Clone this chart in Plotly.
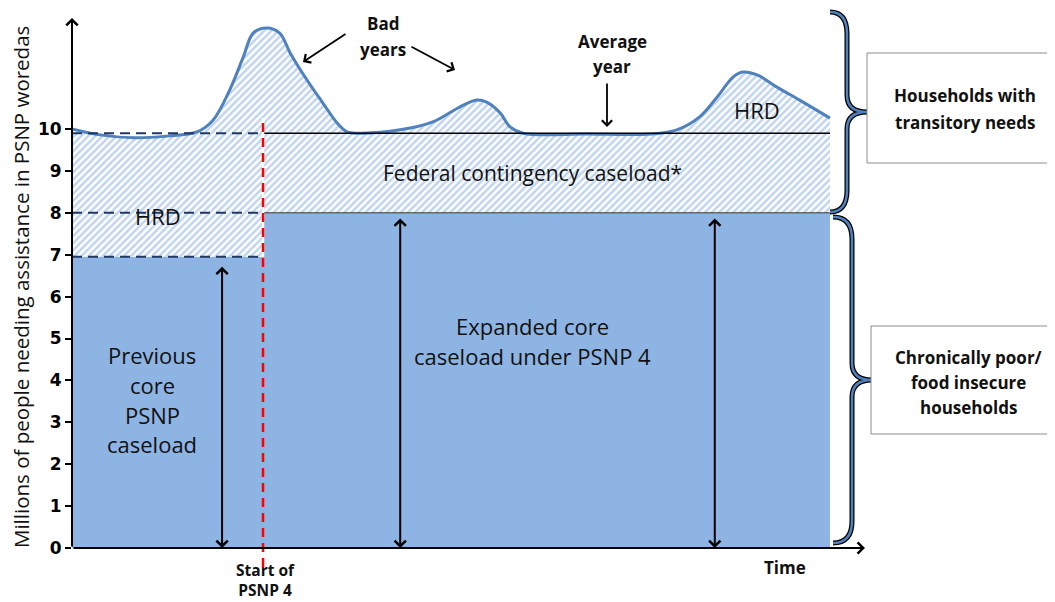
import plotly.graph_objects as go

# ---------------- data ----------------
time_pts = [0, 3.7, 8.3, 12.5, 16.5, 18.6, 20.8, 22.6, 23.9, 25.7, 27.4, 28.8, 31.0,
            33.1, 35.0, 36.3, 38.0, 43.3, 47.6, 51.2, 53.4, 54.7, 56.5, 57.8, 59.5,
            68.0, 76.3, 79.8, 82.8, 85.1, 87.2, 88.5, 90.4, 93.0, 96.0, 100]
need_total = [10.0, 9.86, 9.79, 9.83, 9.93, 10.21, 10.93, 11.72, 12.29, 12.41, 12.29, 11.81, 11.17,
              10.62, 10.14, 9.93, 9.90, 9.98, 10.17, 10.53, 10.69, 10.64, 10.38, 10.05, 9.90,
              9.88, 9.88, 9.98, 10.29, 10.76, 11.24, 11.36, 11.29, 11.0, 10.69, 10.26]
psnp4_start = 25.2
time_end = 100
prev_core = 6.95
new_core = 8.0
hrd_level_prev = 8.0
contingency_top = 9.9
arrow_times = [19.8, 43.3, 84.8]
arrow_tops = [6.75, 7.9, 7.9]
y_ticks = [0, 1, 2, 3, 4, 5, 6, 7, 8, 9, 10]
y_ticktext = [str(v) for v in y_ticks]

# ---------------- layout geometry ----------------
OFF = 8                      # page body margin in the browser
W, H = 1055 - OFF, 602 - OFF
ML, MT = 72 - OFF, 18 - OFF
PW, PH = 793, 530
MR = W - ML - PW
MB = H - MT - PH
XMAX = PW / 7.58
YMAX = PH / 41.9


def PX(px):
    return (px - 72) / PW


def PY(py):
    return (548 - py) / PH


def xp(t):
    return t / XMAX


def yp(v):
    return v / YMAX


CORE = '#8EB4E3'
NAVY = '#1F3864'
BLUE = '#4F81BD'
TXT = '#111111'
FONT = 'Open Sans'

fig = go.Figure()

# core caseload (solid)
core_x = [0, psnp4_start, psnp4_start, time_end]
core_y = [prev_core, prev_core, new_core, new_core]
fig.add_trace(go.Scatter(x=core_x, y=core_y, mode='lines', fill='tozeroy',
                         fillcolor=CORE, line=dict(width=0, color=CORE),
                         hoverinfo='skip', showlegend=False))
# transitory needs (hatched)
fig.add_trace(go.Scatter(x=time_pts, y=need_total, mode='lines', fill='tonexty',
                         fillcolor='white',
                         fillpattern=dict(shape='/', fgcolor='#84AADC', bgcolor='white',
                                          size=5, solidity=0.5),
                         line=dict(color=BLUE, width=3, shape='spline', smoothing=1.0),
                         hoverinfo='skip', showlegend=False))

# dashed guide lines before PSNP 4
dash = '10px,6px'
for lvl, xend in [(contingency_top, psnp4_start), (hrd_level_prev, psnp4_start),
                  (prev_core, psnp4_start - 0.6)]:
    fig.add_trace(go.Scatter(x=[0, xend], y=[lvl, lvl], mode='lines',
                             line=dict(color=NAVY, width=2, dash=dash),
                             hoverinfo='skip', showlegend=False))
# solid lines after PSNP 4
fig.add_trace(go.Scatter(x=[psnp4_start, time_end], y=[contingency_top, contingency_top],
                         mode='lines', line=dict(color='black', width=1.6),
                         hoverinfo='skip', showlegend=False))
fig.add_trace(go.Scatter(x=[psnp4_start, time_end], y=[new_core, new_core],
                         mode='lines', line=dict(color='#333333', width=1),
                         hoverinfo='skip', showlegend=False))

shapes = []
# red start line (with white under it in the hatched part)
shapes.append(dict(type='line', xref='paper', yref='paper',
                   x0=xp(psnp4_start), x1=xp(psnp4_start),
                   y0=yp(prev_core), y1=yp(need_total[-1]),
                   line=dict(color='white', width=2.5)))
shapes.append(dict(type='line', xref='paper', yref='paper',
                   x0=xp(psnp4_start), x1=xp(psnp4_start),
                   y0=PY(567), y1=yp(need_total[-1]),
                   line=dict(color='#FF0000', width=2.5, dash='9px,6px')))


def brace(top, bot, xs, xv, xtip):
    mid = (top + bot) / 2
    pts = (f"M {PX(xs)},{PY(top)} Q {PX(xv)},{PY(top)} {PX(xv)},{PY(top + 22)} "
           f"L {PX(xv)},{PY(mid - 17)} Q {PX(xv)},{PY(mid)} {PX(xtip)},{PY(mid)} "
           f"Q {PX(xv)},{PY(mid)} {PX(xv)},{PY(mid + 17)} "
           f"L {PX(xv)},{PY(bot - 22)} Q {PX(xv)},{PY(bot)} {PX(xs)},{PY(bot)}")
    return pts


for top, bot, xs, xv, xtip in [(12, 212, 830, 847, 867), (217, 543, 833, 852, 872)]:
    p = brace(top, bot, xs, xv, xtip)
    shapes.append(dict(type='path', xref='paper', yref='paper', path=p,
                       line=dict(color='black', width=5)))
    shapes.append(dict(type='path', xref='paper', yref='paper', path=p,
                       line=dict(color=BLUE, width=2.5)))

# boxes
shapes.append(dict(type='rect', xref='paper', yref='paper', x0=PX(867), x1=PX(1062),
                   y0=PY(163), y1=PY(53), line=dict(color='#8C8C8C', width=1),
                   fillcolor='white'))
shapes.append(dict(type='rect', xref='paper', yref='paper', x0=PX(871), x1=PX(1062),
                   y0=PY(434), y1=PY(326), line=dict(color='#8C8C8C', width=1),
                   fillcolor='white'))

ann = []


def text_lines(lines, cx, ys, size, bold=False, color=TXT):
    for line, y in zip(lines, ys):
        ann.append(dict(xref='paper', yref='paper', x=PX(cx), y=PY(y), text=line,
                        showarrow=False, xanchor='center', yanchor='middle',
                        font=dict(family=FONT, size=size, color=color,
                                  weight='bold' if bold else 'normal')))


text_lines(['Bad', 'years'], 383, [24, 50], 17, bold=True)
text_lines(['Average', 'year'], 612, [42, 67], 17, bold=True)
text_lines(['HRD'], 757, [110], 22)
text_lines(['HRD'], 158, [216], 22)
text_lines(['Federal contingency caseload*'], 532, [173], 21)
text_lines(['Expanded core', 'caseload under PSNP 4'], 532, [326, 356], 22)
text_lines(['Previous', 'core', 'PSNP', 'caseload'], 152, [355, 385, 415, 444], 22)
text_lines(['Start of<br>PSNP 4'], 265, [580], 15.5, bold=True)
text_lines(['Time'], 785, [567], 17, bold=True)
text_lines(['Households with', 'transitory needs'], 965, [96, 123], 17, bold=True)
text_lines(['Chronically poor/', 'food insecure', 'households'], 968, [357, 382, 407], 17, bold=True)

# y-axis title
ann.append(dict(xref='paper', yref='paper', x=PX(21), y=PY(287), text=
                'Millions of people needing assistance in PSNP woredas', textangle=-90,
                showarrow=False, xanchor='center', yanchor='middle',
                font=dict(family=FONT, size=20.5, color=TXT)))

# axis arrows
ann.append(dict(xref='x', yref='y', axref='x', ayref='y', x=0, y=YMAX, ax=0, ay=0,
                text='', showarrow=True, arrowhead=4, arrowsize=1.1, arrowwidth=2,
                arrowcolor='black', standoff=0))
ann.append(dict(xref='x', yref='y', axref='x', ayref='y', x=XMAX, y=0, ax=0, ay=0,
                text='', showarrow=True, arrowhead=4, arrowsize=1.1, arrowwidth=2,
                arrowcolor='black', standoff=0))

# double-headed caseload arrows
for t, top in zip(arrow_times, arrow_tops):
    ann.append(dict(xref='x', yref='y', axref='x', ayref='y', x=t, y=0, ax=t, ay=top,
                    text='', showarrow=True, arrowhead=4, startarrowhead=4,
                    arrowside='end+start', arrowsize=1.1, startarrowsize=1.1,
                    arrowwidth=2, arrowcolor='black', standoff=0, startstandoff=0))

# pointer arrows
for hx, hy, tx, ty in [(303, 62, 347, 33), (455, 70, 410, 46), (607, 127, 607, 82)]:
    ann.append(dict(xref='paper', yref='paper', x=PX(hx), y=PY(hy), ax=tx - hx, ay=ty - hy,
                    text='', showarrow=True, arrowhead=4, arrowsize=1.1, arrowwidth=1.8,
                    arrowcolor='black', standoff=0))

fig.update_layout(
    width=W, height=H,
    margin=dict(l=ML, r=MR, t=MT, b=MB),
    paper_bgcolor='white', plot_bgcolor='white',
    shapes=shapes, annotations=ann,
    xaxis=dict(range=[0, XMAX], showgrid=False, zeroline=False, showticklabels=False,
               ticks='', showline=False, fixedrange=True),
    yaxis=dict(range=[0, YMAX], showgrid=False, zeroline=False, showline=False,
               tickvals=y_ticks, ticktext=y_ticktext, ticks='outside', ticklen=6,
               tickwidth=2, tickcolor='black',
               tickfont=dict(family='DejaVu Sans', size=17, color='black', weight='bold'),
               fixedrange=True),
)

fig.write_html('out.html')
